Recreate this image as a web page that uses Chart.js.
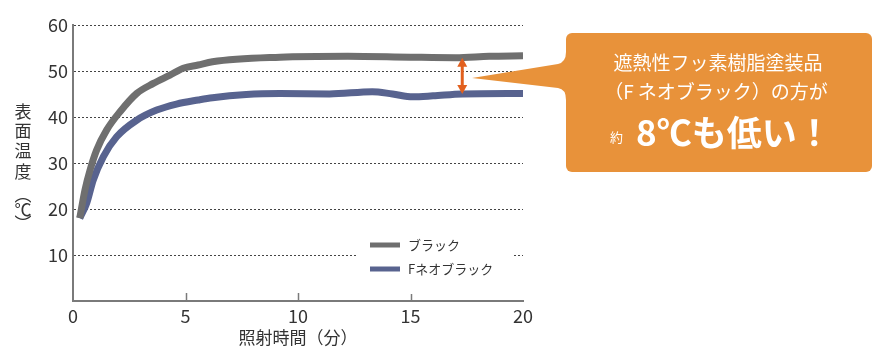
<!DOCTYPE html>
<html>
<head>
<meta charset="utf-8">
<script src="https://cdn.jsdelivr.net/npm/chart.js@4.4.0/dist/chart.umd.min.js"></script>
<style>
  html, body { margin: 0; padding: 0; background: #fff; }
</style>
</head>
<body>
<canvas id="tempChart" width="879" height="355"></canvas>
<script>
// Surface temperature vs. irradiation time
let blackTime  = [ 0.3, 0.53, 0.76, 1.05, 1.5, 2.1, 2.83, 3.57, 4.31, 4.9, 5.56, 6.2, 9.2, 12.2, 15, 17, 18.5, 20 ];
let blackTemp  = [ 18, 24.1, 28.5, 32.8, 37.2, 41.2, 45.1, 47.3, 49.1, 50.6, 51.3, 52.0, 53.0, 53.2, 53.0, 52.9, 53.2, 53.3 ];

let neoTime    = [ 0.3, 0.61, 0.9, 1.35, 1.94, 2.83, 3.72, 4.6, 5.57, 6.2, 7.7, 9.2, 11.4, 13.3, 14.2, 15.1, 16, 17.3, 20 ];
let neoTemp    = [ 18, 21.3, 26.3, 31.4, 35.7, 39.3, 41.5, 42.8, 43.7, 44.2, 44.9, 45.1, 45.0, 45.5, 45.0, 44.4, 44.6, 45.0, 45.1 ];

let seriesNames = [ 'ブラック', 'Fネオブラック' ];
let xTicks = [ 0, 5, 10, 15, 20 ];
let yTicks = [ 0, 10, 20, 30, 40, 50, 60 ];

// difference arrow (minutes, °C)
let arrowTime = 17.3;
let arrowHigh = 52.9;
let arrowLow = 45.0;

let calloutLines = [ '遮熱性フッ素樹脂塗装品', '（F ネオブラック）の方が' ];
let calloutSmall = '約';
let calloutBig = '8℃も低い！';
let yTitleChars = [ '表', '面', '温', '度', '︵', '℃', '︶' ];

const JP = "'Noto Sans CJK JP', 'Noto Sans', sans-serif";
const AXIS_GRAY = '#7a7a7a';
const ORANGE = '#e8923a';

function toPoints ( xs, ys )
{
    return xs.map( function ( x, i ) { return { x: x, y: ys[ i ] }; } );
}

// extra drawing: inner x ticks, y title, legend, arrow, callout
let extrasPlugin = {
    id: 'extras',
    afterDraw: function ( chart )
    {
        let ctx = chart.ctx;
        let xs = chart.scales.x;
        let ys = chart.scales.y;
        let area = chart.chartArea;

        ctx.save();

        // small inward ticks on the x axis
        ctx.strokeStyle = AXIS_GRAY;
        ctx.lineWidth = 1.5;
        xTicks.slice( 1, -1 ).forEach( function ( t )
        {
            let px = Math.round( xs.getPixelForValue( t ) ) + 0.5;
            ctx.beginPath();
            ctx.moveTo( px, area.bottom );
            ctx.lineTo( px, area.bottom - 8 );
            ctx.stroke();
        } );

        // vertical y axis title
        ctx.fillStyle = '#333';
        ctx.font = '17px ' + JP;
        ctx.textAlign = 'center';
        ctx.textBaseline = 'middle';
        let yPos = [ 112, 131, 151, 172, 195, 210, 224 ];
        yTitleChars.forEach( function ( c, i )
        {
            ctx.fillText( c, 23, yPos[ i ] );
        } );

        // legend with white box
        ctx.fillStyle = '#fff';
        ctx.fillRect( 358, 226, 155, 68 );
        ctx.font = '13px ' + JP;
        ctx.textAlign = 'left';
        chart.data.datasets.forEach( function ( ds, i )
        {
            let ly = 245 + i * 24;
            ctx.strokeStyle = ds.borderColor;
            ctx.lineWidth = 5;
            ctx.beginPath();
            ctx.moveTo( 370, ly );
            ctx.lineTo( 400, ly );
            ctx.stroke();
            ctx.fillStyle = '#333';
            ctx.fillText( ds.label, 408, ly );
        } );

        // double-headed arrow between the two curves
        let ax = xs.getPixelForValue( arrowTime );
        let aTop = ys.getPixelForValue( arrowHigh );
        let aBot = ys.getPixelForValue( arrowLow );
        ctx.fillStyle = '#e2601e';
        ctx.strokeStyle = '#e2601e';
        ctx.lineWidth = 3;
        ctx.beginPath();
        ctx.moveTo( ax, aTop + 6 );
        ctx.lineTo( ax, aBot - 6 );
        ctx.stroke();
        ctx.beginPath();
        ctx.moveTo( ax, aTop );
        ctx.lineTo( ax - 5, aTop + 9 );
        ctx.lineTo( ax + 5, aTop + 9 );
        ctx.closePath();
        ctx.fill();
        ctx.beginPath();
        ctx.moveTo( ax, aBot );
        ctx.lineTo( ax - 5, aBot - 9 );
        ctx.lineTo( ax + 5, aBot - 9 );
        ctx.closePath();
        ctx.fill();

        // callout bubble
        ctx.fillStyle = ORANGE;
        ctx.beginPath();
        ctx.roundRect( 566, 33, 306, 139, 6 );
        ctx.fill();
        ctx.beginPath();
        ctx.moveTo( 472, 78 );
        ctx.lineTo( 558, 64 );
        ctx.quadraticCurveTo( 566, 62, 566, 52 );
        ctx.lineTo( 566, 100 );
        ctx.quadraticCurveTo( 566, 89, 558, 88 );
        ctx.closePath();
        ctx.fill();

        ctx.fillStyle = '#fff';
        ctx.textAlign = 'center';
        ctx.textBaseline = 'middle';
        ctx.font = '19px ' + JP;
        ctx.fillText( calloutLines[ 0 ], 718, 63 );
        ctx.fillText( calloutLines[ 1 ], 716, 92 );
        ctx.textAlign = 'left';
        ctx.font = '13px ' + JP;
        ctx.fillText( calloutSmall, 610, 137 );
        ctx.font = 'bold 35px ' + JP;
        ctx.fillText( calloutBig, 636, 133 );

        ctx.restore();
    }
};

let ctx = document.getElementById( 'tempChart' ).getContext( '2d' );
let chart = new Chart( ctx, {
    type: 'line',
    data: {
        datasets: [
            {
                label: seriesNames[ 0 ],
                data: toPoints( blackTime, blackTemp ),
                borderColor: '#6f6f6f',
                borderWidth: 7,
                pointRadius: 0,
                cubicInterpolationMode: 'monotone',
                fill: false
            },
            {
                label: seriesNames[ 1 ],
                data: toPoints( neoTime, neoTemp ),
                borderColor: '#58638f',
                borderWidth: 7,
                pointRadius: 0,
                cubicInterpolationMode: 'monotone',
                fill: false
            }
        ]
    },
    options: {
        responsive: false,
        animation: false,
        events: [],
        layout: { padding: { left: 0, top: 25, right: 356, bottom: 0 } },
        plugins: {
            legend: { display: false },
            tooltip: { enabled: false }
        },
        scales: {
            x: {
                type: 'linear',
                min: 0,
                max: 20,
                afterFit: function ( scale ) { scale.height = 54; },
                afterBuildTicks: function ( scale ) { scale.ticks = xTicks.map( function ( v ) { return { value: v }; } ); },
                grid: { display: false, drawTicks: false },
                border: { display: true, color: AXIS_GRAY, width: 2 },
                ticks: { color: '#333', padding: 4, font: { size: 18, family: JP } },
                title: {
                    display: true,
                    text: '照射時間（分）',
                    color: '#333',
                    font: { size: 17, family: JP },
                    padding: { top: 0, bottom: 7 }
                }
            },
            y: {
                min: 0,
                max: 60,
                afterFit: function ( scale ) { scale.width = 73; },
                afterBuildTicks: function ( scale ) { scale.ticks = yTicks.map( function ( v ) { return { value: v }; } ); },
                grid: {
                    drawTicks: false,
                    color: function ( c ) { return c.tick && c.tick.value === 0 ? 'rgba(0,0,0,0)' : '#444'; },
                    lineWidth: 1
                },
                border: { display: true, color: AXIS_GRAY, width: 2, dash: [ 2, 2 ] },
                ticks: {
                    color: '#333',
                    padding: 5,
                    font: { size: 18, family: JP },
                    callback: function ( v ) { return v === 0 ? '' : v; }
                }
            }
        }
    },
    plugins: [ extrasPlugin ]
} );
</script>
</body>
</html>
